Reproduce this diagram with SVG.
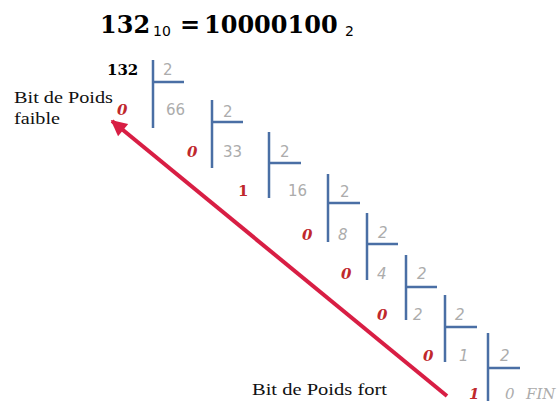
<svg xmlns="http://www.w3.org/2000/svg" width="558" height="401" viewBox="0 0 558 401">
<defs>
<style>
.t{font-family:"DejaVu Serif",serif;font-weight:bold;fill:#000}
.sub{font-family:"DejaVu Sans",sans-serif;font-size:14px;fill:#000}
.q{font-family:"DejaVu Sans",sans-serif;font-size:15px;fill:#acacac}
.qi{font-style:italic}
.fin{font-family:"DejaVu Serif",serif;font-size:15px;font-style:italic;fill:#acacac}
.r{font-family:"DejaVu Serif",serif;font-size:15px;font-weight:bold;font-style:italic;fill:#c0282c}
.lab{font-family:"Liberation Serif",serif;font-size:17.5px;fill:#111}
.div{stroke:#4a6fa5;stroke-width:2.5;fill:none}
</style>
<marker id="ah" viewBox="0 0 10 10" refX="9" refY="5" markerWidth="4.5" markerHeight="4" orient="auto" markerUnits="strokeWidth">
<path d="M0,0 L10,5 L0,10 z" fill="#d81e44"/>
</marker>
</defs>
<g id="title">
<text class="t" x="100" y="33" font-size="24">132</text>
<text class="sub" x="153" y="36">10</text>
<text class="t" x="180" y="33" font-size="24">=</text>
<text class="t" x="204" y="33" font-size="24">10000100</text>
<text class="sub" x="345" y="36">2</text>
</g>
<g id="labels">
<text class="lab" x="14" y="103" textLength="99" lengthAdjust="spacingAndGlyphs">Bit de Poids</text>
<text class="lab" x="14" y="124" textLength="46" lengthAdjust="spacingAndGlyphs">faible</text>
<text class="lab" x="252" y="395" textLength="135" lengthAdjust="spacingAndGlyphs">Bit de Poids fort</text>
</g>
<g id="stage1">
<text class="t" x="107" y="75" font-size="15">132</text>
<path class="div" d="M153,60 V128 M153,82 H184"/>
<text class="q" x="163" y="75">2</text>
<text class="q" x="166" y="115">66</text>
<text class="r" x="117" y="115">0</text>
</g>
<g id="stage2">
<path class="div" d="M212,100 V168 M212,122 H243"/>
<text class="q" x="223" y="117">2</text>
<text class="q" x="223" y="157">33</text>
<text class="r" x="187" y="157">0</text>
</g>
<g id="stage3">
<path class="div" d="M269,132 V198 M269,163 H301"/>
<text class="q" x="280" y="157">2</text>
<text class="q" x="288" y="196">16</text>
<text class="t" x="238" y="196" font-size="15" style="fill:#c0282c">1</text>
</g>
<g id="stage4">
<path class="div" d="M328,174 V242 M328,203 H360"/>
<text class="q" x="340" y="197">2</text>
<text class="q qi" x="338" y="240">8</text>
<text class="r" x="302" y="240">0</text>
</g>
<g id="stage5">
<path class="div" d="M367,213 V280 M367,244 H398"/>
<text class="q qi" x="378" y="238">2</text>
<text class="q qi" x="377" y="279">4</text>
<text class="r" x="341" y="279">0</text>
</g>
<g id="stage6">
<path class="div" d="M406,255 V320 M406,287 H437"/>
<text class="q qi" x="417" y="279">2</text>
<text class="q qi" x="413" y="320">2</text>
<text class="r" x="377" y="320">0</text>
</g>
<g id="stage7">
<path class="div" d="M445,295 V362 M445,327 H477"/>
<text class="q qi" x="455" y="320">2</text>
<text class="q qi" x="459" y="361">1</text>
<text class="r" x="423" y="361">0</text>
</g>
<g id="stage8">
<path class="div" d="M488,333 V401 M488,368 H520"/>
<text class="q qi" x="500" y="361">2</text>
<text class="fin" x="505" y="399">0 <tspan x="526">FIN</tspan></text>
<text class="r" x="469" y="399">1</text>
</g>
<g id="connectors">
<line x1="447" y1="396" x2="112" y2="121" stroke="#d81e44" stroke-width="4" marker-end="url(#ah)"/>
</g>
</svg>
